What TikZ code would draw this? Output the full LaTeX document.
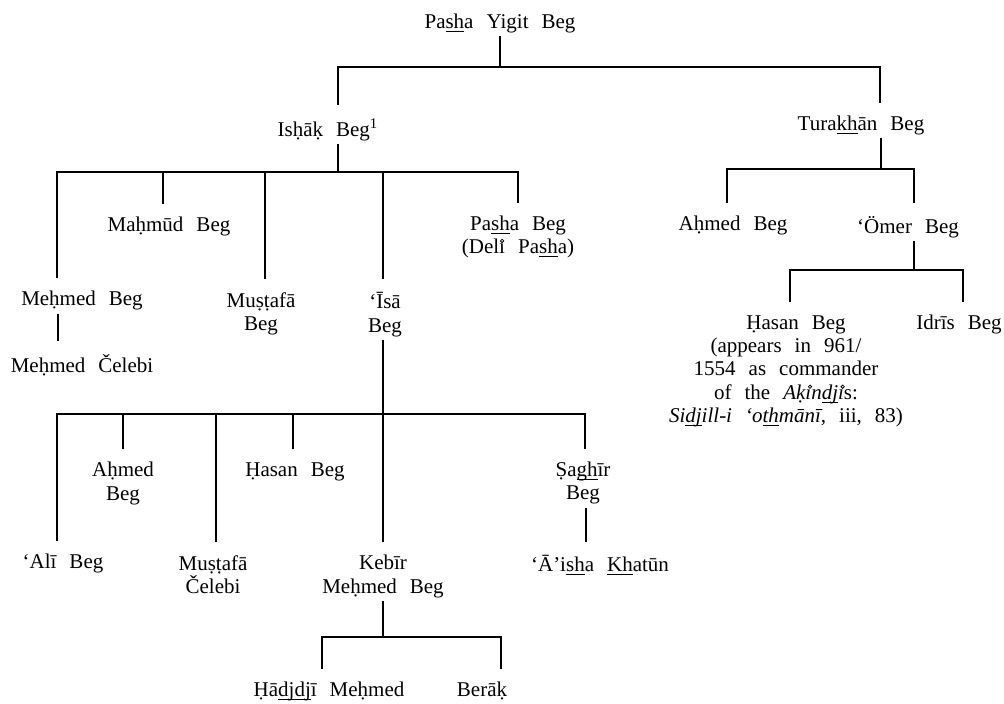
\documentclass[tikz,border=0pt]{standalone}
\usepackage{fontspec}
\setmainfont{Liberation Serif}
\newcommand\treefont{\fontsize{10.5}{11.7}\selectfont\spaceskip=0.62em\relax}
% underline that keeps to the baseline, and a ringed dotless i
\newcommand\und[1]{\underline{\smash{#1}}}
\newcommand\ri[1][-0.14em]{ı\tikz[baseline=0pt,overlay]\draw[line width=0.4pt] (#1,0.6em) circle[radius=0.08em];}
\tikzset{
  person/.style={anchor=north, inner xsep=0pt, inner ysep=1.5pt, align=center, font=\treefont},
  tree/.style={line width=1.2pt},
  drop/.style={tree, shorten >=5pt},
}

\begin{document}
\begin{tikzpicture}[x=0.5pt, y=-0.5pt]
  \useasboundingbox (0,0) rectangle (1004,704);

  \node[person] (yigit) at (500,11) {Pa\und{sh}a Yigit Beg};

  \node[person] (ishak) at (328,115) {Isḥāḳ Beg\textsuperscript{1}};
  \node[person] (turakhan) at (861,113) {Tura\und{kh}ān Beg};

  \node[person] (mahmud) at (169,214) {Maḥmūd Beg};
  \node[person] (pasha) at (518,213) {Pa\und{sh}a Beg\\(Del\ri{} Pa\und{sh}a)};
  \node[person] (ahmedT) at (733,213) {Aḥmed Beg};
  \node[person] (omer) at (908,213) {‘Ömer Beg};

  \node[person] (mehmed) at (82,288) {Meḥmed Beg};
  \node[person] (mustafa) at (261,289) {Muṣṭafā\\Beg};
  \node[person] (isa) at (385,289) {‘Īsā\\Beg};
  \node[person] (celebi) at (82,351) {Meḥmed Čelebi};

  \node[person] (hasanT) at (786,312) {\hspace*{10pt}Ḥasan Beg\\(appears in 961/\hspace*{10pt}\\1554 as commander\\of the \textit{Aḳ\ri[-0.06em]n\und{dj}\ri[-0.06em]}s:\hspace*{10pt}\\\textit{Si\und{dj}ill-i ‘o\und{th}mānī}, iii, 83)};
  \node[person] (idris) at (959,312) {Idrīs Beg};

  % sons of Isa Beg
  \node[person] (ahmed) at (123,459) {Aḥmed\\Beg};
  \node[person] (hasan) at (295,459) {Ḥasan Beg};
  \node[person] (saghir) at (583,459) {Ṣa\und{gh}īr\\Beg};
  \node[person] (ali) at (63,551) {‘Alī Beg};
  \node[person] (mustafaC) at (213,552) {Muṣṭafā\\Čelebi};
  \node[person] (kebir) at (383,552) {Kebīr\\Meḥmed Beg};
  \node[person] (aisha) at (600,552) {‘Ā’i\und{sh}a \und{Kh}atūn};

  \node[person] (hadjdji) at (329,679) {Ḥā\und{djdj}ī Meḥmed};
  \node[person] (berak) at (482,679) {Berāḳ};

  % Pasha Yigit Beg
  \draw[tree] (yigit.south) -- (500,67);
  \foreach \c/\x in {ishak/338, turakhan/880}
    \draw[drop] (500,67) -| (\x,0 |- \c.north);

  % Ishak Beg
  \draw[tree] (338,0 |- ishak.south) -- (338,172);
  \foreach \c/\x in {mehmed/57, mahmud/163, mustafa/265, isa/383, pasha/518}
    \draw[drop] (338,172) -| (\x,0 |- \c.north);
  \draw[drop] (58,0 |- mehmed.south) -- (58,0 |- celebi.north);

  % Turakhan Beg and Omer Beg
  \draw[tree] (881,0 |- turakhan.south) -- (881,169);
  \foreach \c/\x in {ahmedT/727, omer/914}
    \draw[drop] (881,169) -| (\x,0 |- \c.north);
  \draw[tree] (914,0 |- omer.south) -- (914,270);
  \foreach \c/\x in {hasanT/790, idris/963}
    \draw[drop] (914,270) -| (\x,0 |- \c.north);

  % Isa Beg
  \draw[tree] (383,0 |- isa.south) -- (383,414);
  \foreach \c/\x in {ali/57, ahmed/123, mustafaC/216, hasan/293, kebir/383, saghir/585}
    \draw[drop] (383,414) -| (\x,0 |- \c.north);
  \draw[drop] (586,0 |- saghir.south) -- (586,0 |- aisha.north);

  % Kebir Mehmed Beg
  \draw[tree] (kebir.south) -- (383,637);
  \foreach \c/\x in {hadjdji/322, berak/501}
    \draw[drop] (383,637) -| (\x,0 |- \c.north);
\end{tikzpicture}
\end{document}
